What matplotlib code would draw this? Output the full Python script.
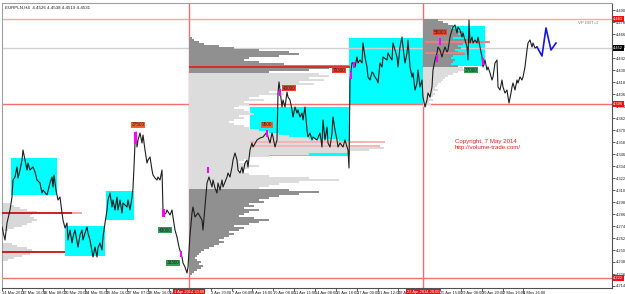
"""
EURPLN H4 chart with volume profiles, consolidation boxes and signal tags.
"""

import numpy as np
import matplotlib
matplotlib.use("Agg")
import matplotlib.pyplot as plt
import matplotlib.transforms as mtransforms
from matplotlib.patches import Rectangle

plt.rcParams["font.family"] = ["Liberation Sans", "DejaVu Sans"]

# price line (bar index, close)
bars = [2, 5, 7, 10, 12, 13, 15, 17, 18, 20,
        22, 23, 25, 27, 28, 30, 33, 35, 37, 40,
        42, 43, 47, 50, 52, 53, 54, 56, 58, 60,
        62, 63, 65, 67, 68, 70, 72, 73, 75, 78,
        80, 82, 83, 85, 87, 88, 90, 93, 95, 97,
        98, 100, 102, 103, 105, 107, 108, 110, 112, 113,
        115, 117, 118, 120, 122, 123, 127, 128, 130, 132,
        133, 134, 135, 136, 137, 138, 140, 142, 143, 145,
        147, 148, 150, 152, 153, 155, 157, 158, 160, 162,
        163, 164, 166, 167, 170, 172, 173, 175, 177, 179,
        182, 183, 185, 187, 188,
        190, 192, 193, 195, 198, 202, 203, 205, 206, 207,
        209, 212, 213, 215, 217, 218, 220, 222, 223, 227,
        228, 230, 232, 233, 235, 237, 238, 240, 242, 243,
        245, 247, 248, 250, 252, 253, 257, 260, 263, 267,
        268, 270, 272, 273, 275, 277, 278, 279, 280, 282,
        283, 285, 287, 288, 290, 292, 293, 295, 297, 298,
        300, 302, 303, 305, 307, 308, 310, 312, 313, 317,
        320, 322, 323, 325, 327, 328, 330, 332, 333, 335,
        337, 338, 340, 343, 345, 347, 348, 349, 350, 352,
        353, 355, 357, 358, 360, 362, 363, 365, 367, 368,
        370, 372, 373, 375, 377, 378, 380, 382, 383, 387,
        388, 390, 392, 393, 395, 397, 398, 400, 402, 403,
        405, 407, 408, 410, 412, 413, 415, 417, 418, 420,
        422, 423, 425, 427, 428, 430, 432, 433, 435, 437,
        438, 440, 442, 443, 445, 447, 448, 450, 452, 453,
        455, 457, 458, 460, 462, 463, 465, 467, 468, 469,
        470, 472, 473, 475, 477, 478, 480, 482, 483, 485,
        487, 488, 490, 492, 493, 495, 497, 498, 500, 502,
        503, 505, 507, 508, 509, 511, 512, 513, 515, 517,
        518, 520, 522, 523, 525, 527, 528, 530, 532, 533,
        535, 537]
close = [4.273, 4.260, 4.277, 4.290, 4.303, 4.320, 4.323, 4.333, 4.322, 4.330,
         4.340, 4.350, 4.340, 4.330, 4.337, 4.330, 4.333, 4.328, 4.320, 4.317,
         4.307, 4.310, 4.305, 4.317, 4.323, 4.313, 4.325, 4.310, 4.300, 4.303,
         4.287, 4.280, 4.272, 4.277, 4.260, 4.270, 4.257, 4.263, 4.270, 4.253,
         4.265, 4.270, 4.260, 4.267, 4.273, 4.267, 4.260, 4.243, 4.253, 4.243,
         4.252, 4.257, 4.250, 4.263, 4.277, 4.290, 4.300, 4.307, 4.293, 4.300,
         4.290, 4.303, 4.290, 4.300, 4.287, 4.297, 4.293, 4.300, 4.290, 4.303,
         4.312, 4.333, 4.357, 4.368, 4.353, 4.360, 4.367, 4.357, 4.365, 4.350,
         4.337, 4.340, 4.343, 4.330, 4.325, 4.322, 4.320, 4.323, 4.320, 4.330,
         4.290, 4.285, 4.287, 4.290, 4.285, 4.290, 4.283, 4.270, 4.263, 4.253,
         4.243, 4.237, 4.233, 4.227, 4.233,
         4.265, 4.287, 4.293, 4.283, 4.287, 4.280, 4.270, 4.293, 4.305, 4.317,
         4.323, 4.313, 4.320, 4.312, 4.307, 4.317, 4.310, 4.320, 4.313, 4.323,
         4.327, 4.323, 4.333, 4.340, 4.347, 4.340, 4.330, 4.327, 4.333, 4.327,
         4.337, 4.340, 4.333, 4.350, 4.357, 4.353, 4.360, 4.362, 4.363, 4.368,
         4.363, 4.357, 4.367, 4.363, 4.353, 4.360, 4.407, 4.418, 4.410, 4.393,
         4.400, 4.393, 4.408, 4.403, 4.400, 4.390, 4.383, 4.393, 4.387, 4.390,
         4.383, 4.387, 4.380, 4.393, 4.370, 4.363, 4.367, 4.360, 4.363, 4.360,
         4.367, 4.353, 4.380, 4.360, 4.373, 4.357, 4.353, 4.367, 4.383, 4.370,
         4.360, 4.353, 4.357, 4.353, 4.360, 4.353, 4.350, 4.332, 4.420, 4.437,
         4.437, 4.433, 4.443, 4.437, 4.440, 4.437, 4.457, 4.443, 4.433, 4.423,
         4.420, 4.428, 4.427, 4.423, 4.420, 4.417, 4.437, 4.433, 4.443, 4.440,
         4.447, 4.443, 4.440, 4.457, 4.450, 4.443, 4.433, 4.453, 4.463, 4.453,
         4.437, 4.447, 4.460, 4.433, 4.423, 4.427, 4.410, 4.417, 4.430, 4.413,
         4.420, 4.403, 4.393, 4.400, 4.407, 4.403, 4.413, 4.430, 4.440, 4.447,
         4.453, 4.450, 4.443, 4.447, 4.453, 4.448, 4.450, 4.463, 4.470, 4.473,
         4.475, 4.467, 4.473, 4.470, 4.463, 4.467, 4.460, 4.453, 4.440, 4.480,
         4.457, 4.463, 4.457, 4.460, 4.457, 4.463, 4.453, 4.443, 4.433, 4.440,
         4.430, 4.433, 4.427, 4.420, 4.423, 4.437, 4.440, 4.413, 4.410, 4.420,
         4.413, 4.407, 4.410, 4.403, 4.397, 4.407, 4.413, 4.417, 4.410, 4.420,
         4.417, 4.423, 4.420, 4.423, 4.433, 4.450, 4.457, 4.460, 4.453, 4.457,
         4.452, 4.453]

# blue projected path
forecast_bars = [537, 542, 546, 551, 556]
forecast = [4.453, 4.444, 4.472, 4.450, 4.457]

# cyan consolidation boxes
box_start = [11, 65, 106, 250, 349, 424]
box_end = [57, 105, 134, 350, 423, 485]
box_low = [4.305, 4.244, 4.280, 4.344, 4.396, 4.434]
box_high = [4.342, 4.274, 4.309, 4.393, 4.462, 4.474]

# volume profiles (widths in bars, 0.002 price bins)
vp1_top = [4.296, 4.256]
vp1_a = [8, 12, 18, 25, 35, 30, 28, 32, 35, 30, 25, 20, 12, 6]
vp1_b = [10, 15, 25, 30, 35, 28, 20, 12, 6]

vp2_anchor = 189
vp2_upper_top = 4.462
vp2_upper = [3, 5, 10, 15, 30, 45, 70, 100, 110, 90, 60, 55, 70, 95, 160, 140, 120, 80]
vp2_mid_top = 4.426
vp2_mid = [130, 140, 120, 135, 110, 125, 100, 90, 105, 80, 95, 70, 60, 75, 55, 60,
           50, 45, 55, 60, 65, 50, 55, 45, 40, 45, 55, 60, 70, 80, 90, 100, 120,
           150, 175, 160, 170, 195, 180, 160, 120, 80, 60, 55, 50, 60, 70, 60, 50,
           55, 60, 80, 120, 150, 110, 90, 80, 70]
vp2_lower_top = 4.310
vp2_lower = [100, 130, 110, 90, 80, 70, 75, 60, 65, 55, 70, 60, 55, 50, 65, 80,
             70, 60, 45, 55, 50, 40, 45, 40, 35, 30, 35, 30, 25, 20, 15, 12, 10,
             8, 6, 8, 12, 10, 14, 12, 8, 5, 3]

vp3_anchor = 423
vp3_upper_top = 4.480
vp3_upper = [15, 20, 25, 30, 28, 35, 40, 35, 38, 30, 45, 65, 40, 35, 38, 32,
             35, 42, 30, 28, 32, 30, 28, 35]
vp3_lower_top = 4.432
vp3_lower = [40, 45, 35, 30, 25, 22, 20, 18, 15, 14, 12, 15, 10, 12, 10, 8, 10, 6, 8, 4]

# POC / level segments: start, end, price, colour
seg_start = [2, 72, 2, 189, 250, 250, 425, 425]
seg_end = [72, 82, 65, 350, 385, 380, 490, 465]
seg_price = [4.287, 4.287, 4.248, 4.433, 4.358, 4.354, 4.458, 4.447]
seg_color = ["#c81010", "#f4a0a0", "#c81010", "#e82020", "#f6b0b0", "#f6b0b0",
             "#f08080", "#f08080"]

# number tags
tag_bar = [138, 165, 173, 267, 289, 339, 440, 471]
tag_price = [4.375, 4.270, 4.237, 4.375, 4.412, 4.430, 4.468, 4.430]
tag_text = ["37500", "43000", "33300", "9500", "40000", "70300", "55000", "37000"]
tag_color = ["#f06030", "#30a050", "#30a050", "#f06030", "#f04030", "#f04030",
             "#f04030", "#30a050"]

# magenta signal bars
sig_bar = [135.5, 163.5, 181, 208, 267, 280, 351, 354, 437, 440, 483]
sig_low = [4.356, 4.283, 4.243, 4.327, 4.363, 4.404, 4.421, 4.432, 4.438, 4.455, 4.435]
sig_high = [4.368, 4.291, 4.249, 4.333, 4.370, 4.411, 4.428, 4.438, 4.445, 4.462, 4.442]

# full-width levels
level_price = [4.481, 4.452, 4.396, 4.222]
level_color = ["#f6a8a8", "#d0d0d0", "#f07070", "#f07070"]
level_tag_bg = ["#f01010", "#000000", "#f01010", "#f01010"]

session_bars = [189, 423]
session_labels = ["1 Apr 2014 20:00", "23 Apr 2014 20:00"]

xtick_pos = [2, 22, 43, 64, 85, 106, 127, 148, 169, 211, 232, 252, 273, 294,
             315, 336, 357, 378, 398, 440, 461, 482, 503, 523]
xtick_lab = ["14 Mar 2014", "17 Mar 16:00", "18 Mar 08:00", "20 Mar 20:00",
             "24 Mar 05:00", "25 Mar 16:00", "27 Mar 07:00", "28 Mar 16:00",
             "1 Apr 00:00", "3 Apr 20:00", "7 Apr 08:00", "8 Apr 16:00",
             "10 Apr 08:00", "11 Apr 15:00", "14 Apr 08:00", "15 Apr 16:00",
             "17 Apr 00:00", "21 Apr 12:00", "22 Apr 16:00", "25 Apr 15:00",
             "29 Apr 08:00", "30 Apr 20:00", "2 May 16:00", "6 May 16:00"]

fig = plt.figure(figsize=(6.25, 2.94), dpi=100)
ax = fig.add_axes([2 / 625, 6 / 294, 610 / 625, 285 / 294])
ax.set_xlim(2, 612)
ax.set_ylim(4.212, 4.497)

# boxes
for x0, x1, lo, hi in zip(box_start, box_end, box_low, box_high):
    ax.add_patch(Rectangle((x0, lo), x1 - x0, hi - lo, color="#00ffff", lw=0, zorder=1))


def draw_profile(anchor, top, widths, color):
    levels = top - 0.002 * np.arange(len(widths))
    ax.barh(levels, widths, left=anchor, height=0.0012, color=color, lw=0, zorder=2)


draw_profile(2, vp1_top[0], vp1_a, "#d8d8d8")
draw_profile(2, vp1_top[1], vp1_b, "#d8d8d8")
draw_profile(vp2_anchor, vp2_upper_top, vp2_upper, "#909090")
draw_profile(vp2_anchor, vp2_mid_top, vp2_mid, "#dcdcdc")
draw_profile(vp2_anchor, vp2_lower_top, vp2_lower, "#909090")
draw_profile(vp3_anchor, vp3_upper_top, vp3_upper, "#909090")
draw_profile(vp3_anchor, vp3_lower_top, vp3_lower, "#dcdcdc")

for x0, x1, p, c in zip(seg_start, seg_end, seg_price, seg_color):
    ax.plot([x0, x1], [p, p], color=c, lw=1.3, zorder=3, solid_capstyle="butt")

for p, c in zip(level_price, level_color):
    ax.axhline(p, color=c, lw=1, zorder=1.5)
for b in session_bars:
    ax.axvline(b, color="#f07070", lw=1, zorder=1.5)

ax.plot(bars, close, color="#1e1e1e", lw=0.8, zorder=4)
ax.plot(forecast_bars, forecast, color="#1414e6", lw=1.2, zorder=4)

for b, lo, hi in zip(sig_bar, sig_low, sig_high):
    ax.add_patch(Rectangle((b - 1.3, lo), 2.6, hi - lo, color="#ff00ff", lw=0, zorder=5))

for b, p, t, c in zip(tag_bar, tag_price, tag_text, tag_color):
    ax.text(b, p, t, fontsize=3.4, ha="center", va="center", color="#202020", zorder=6,
            bbox=dict(boxstyle="square,pad=0.2", fc=c, ec="none"))

# right price scale
yt = np.round(4.214 + 0.012 * np.arange(24), 3)
ax.yaxis.tick_right()
ax.set_yticks(yt)
ax.set_yticklabels([f"{v:.3f}" for v in yt])
ax.tick_params(axis="y", labelsize=2.9, length=2, width=0.5, pad=1, colors="#202020")

ax.set_xticks(xtick_pos)
ax.set_xticklabels(xtick_lab)
for lab in ax.get_xticklabels():
    lab.set_ha("left")
ax.tick_params(axis="x", labelsize=2.9, length=2, width=0.5, pad=0.5, colors="#202020")

trans_y = mtransforms.blended_transform_factory(ax.transAxes, ax.transData)
for p, bg in zip(level_price, level_tag_bg):
    ax.text(1.002, p, f"{p:.3f}", transform=trans_y, fontsize=2.9, color="white",
            ha="left", va="center", clip_on=False, zorder=7,
            bbox=dict(boxstyle="square,pad=0.15", fc=bg, ec="none"))

trans_x = mtransforms.blended_transform_factory(ax.transData, ax.transAxes)
for b, t in zip(session_bars, session_labels):
    ax.text(b, -0.006, t, transform=trans_x, fontsize=2.9, color="white",
            ha="center", va="top", clip_on=False, zorder=7,
            bbox=dict(boxstyle="square,pad=0.15", fc="#f01010", ec="none"))

for s in ax.spines.values():
    s.set_linewidth(0.8)
    s.set_color("#505050")
ax.spines["top"].set_color("#a0a0a0")
ax.spines["left"].set_color("#a0a0a0")

ax.text(5, 4.492, "EURPLN,H4  4.4526 4.4538 4.4519 4.4531", fontsize=3.2,
        color="#202020", va="center", zorder=7)
ax.text(598, 4.477, "VP DBT=2", fontsize=3.2, color="#808080", ha="right",
        va="center", zorder=7)
ax.text(455, 4.358, "Copyright, 7 May 2014", fontsize=4.4, color="#e82020",
        va="center", zorder=7)
ax.text(455, 4.352, "http://volume-trade.com/", fontsize=4.4, color="#e82020",
        va="center", zorder=7)

fig.savefig("out.png", dpi=100)
